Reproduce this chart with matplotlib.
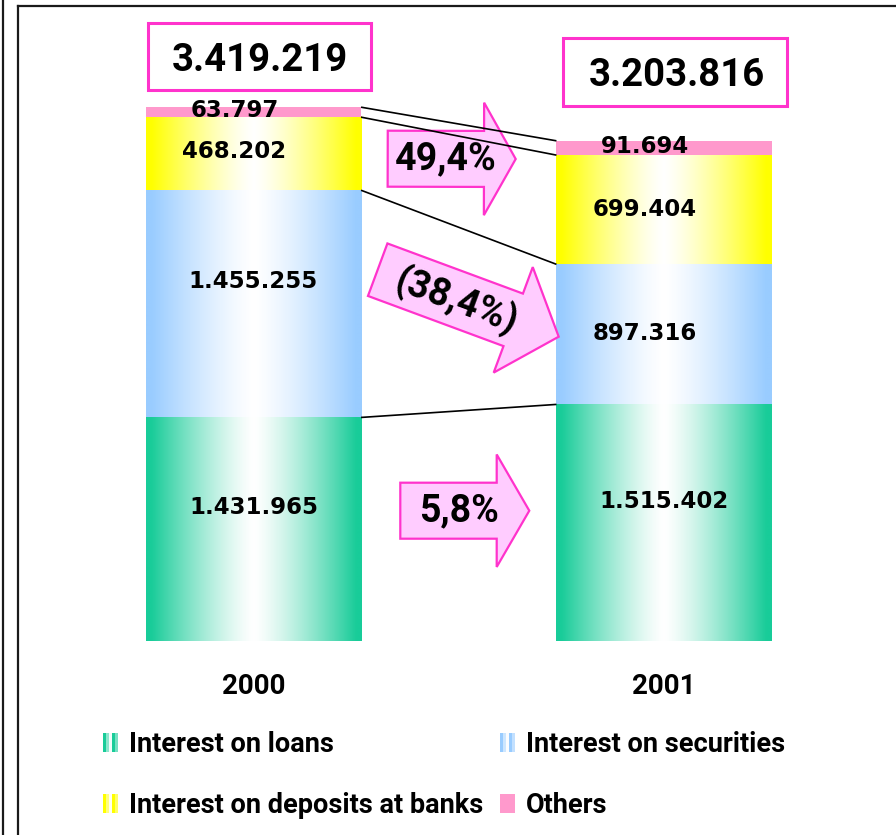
import numpy as np
import matplotlib
matplotlib.use("Agg")
import matplotlib.pyplot as plt
from matplotlib.patches import Rectangle, FancyArrow, Patch
from matplotlib.legend_handler import HandlerBase
from matplotlib.lines import Line2D
from matplotlib.transforms import Affine2D
from matplotlib.colors import to_rgb

# interest income by source, in thousands
years = ["2000", "2001"]
series = ["Interest on loans", "Interest on securities",
          "Interest on deposits at banks", "Others"]
loans = [1431965, 1515402]
securities = [1455255, 897316]
deposits = [468202, 699404]
others = [63797, 91694]
# year-on-year change, %
change_loans = 5.8
change_securities = -38.4
change_deposits = 49.4

colors = ["#19CC99", "#99CCFF", "#FFFF00", "#FF99CC"]
shaded = [True, True, True, False]

MAGENTA = "#FF33CC"
ARROW_FILL = "#FFCCFF"
FONT = "Roboto"
W, H = 896, 835


def fmt_int(v):
    return f"{v:,}".replace(",", ".")


def fmt_change(ch):
    s = f"{abs(ch):.1f}%".replace(".", ",")
    return f"({s})" if ch < 0 else s


def ramp(color, n=256):
    # saturated at the edges, white in the middle
    t = np.abs(np.linspace(-1, 1, n))
    f = np.clip(t / 0.95, 0, 1) ** 1.3
    c = np.array(to_rgb(color))
    return (1 - f[:, None] * (1 - c))[None, :, :]


class StripeHandler(HandlerBase):
    """Small striped swatch for the gradient series."""
    def create_artists(self, legend, orig_handle, xdescent, ydescent,
                       width, height, fontsize, trans):
        base = np.array(to_rgb(orig_handle.get_facecolor()))
        mixes = [1.0, 0.5, 0.05, 1.0, 0.6]
        w = width / len(mixes)
        return [Rectangle((-xdescent + i * w, -ydescent), w, height,
                          facecolor=1 - m * (1 - base), lw=0, transform=trans)
                for i, m in enumerate(mixes)]


fig = plt.figure(figsize=(W / 100, H / 100), dpi=100)
# pixel coordinates, origin top-left
px = Affine2D().scale(1 / W, -1 / H).translate(0, 1) + fig.transFigure

ax = fig.add_axes([18 / W, (H - 641) / H, 875 / W, 621 / H])
x = np.arange(len(years))
width = 0.524
stack = [loans, securities, deposits, others]

bottom = np.zeros(len(years))
for vals, col, grad in zip(stack, colors, shaded):
    bars = ax.bar(x, vals, width, bottom=bottom,
                  color="none" if grad else col, linewidth=0, zorder=2)
    if grad:
        for b in bars:
            ax.imshow(ramp(col), aspect="auto", interpolation="bilinear",
                      extent=(b.get_x(), b.get_x() + b.get_width(),
                              b.get_y(), b.get_y() + b.get_height()),
                      zorder=2)
    bottom += np.array(vals)

# value labels inside the segments
label_dy = [[-15.5, -15.5, 4, 5], [-15, 6, 6, 5]]   # px below segment centre
bottom = np.zeros(len(years))
for k, vals in enumerate(stack):
    for i, v in enumerate(vals):
        dx = 0 if v >= 1_000_000 else -19
        ax.annotate(fmt_int(v), (x[i], bottom[i] + v / 2),
                    xytext=(dx, -label_dy[i][k]), textcoords="offset pixels",
                    ha="center", va="baseline", fontsize=16.5,
                    fontweight="bold", family="DejaVu Sans", zorder=6)
    bottom += np.array(vals)

# connectors between the segment boundaries of the two bars
tops = np.cumsum(stack, axis=0)
for t in tops:
    ax.plot([x[0] + width / 2, x[1] - width / 2], [t[0], t[1]],
            color="black", lw=1.2, zorder=5, solid_capstyle="butt")

ax.set_xlim(-0.5737, 1.5579)
ax.set_ylim(0, 3977700)
ax.set_xticks(x, years)
ax.tick_params(axis="x", length=0, pad=23)
for lab in ax.get_xticklabels():
    lab.set_fontfamily(FONT)
    lab.set_fontweight("bold")
    lab.set_fontsize(20)
ax.set_yticks([])
for sp in ax.spines.values():
    sp.set_visible(False)
ax.patch.set_visible(False)

# totals in boxes above the bars
totals = [sum(s[i] for s in stack) for i in range(len(years))]
total_boxes = [(148, 23, 223, 67, 260, 71), (563, 38, 224, 68, 676.5, 86)]
for tot, (bx, by, bw, bh, tx, ty) in zip(totals, total_boxes):
    fig.add_artist(Rectangle((bx, by), bw, bh, transform=px, facecolor="white",
                             edgecolor=MAGENTA, lw=2.2))
    fig.text(tx, ty, fmt_int(tot), transform=px, ha="center", va="baseline",
             fontsize=27.5, fontweight="bold", family=FONT)

# block arrows with the year-on-year change
arrows = [
    (change_deposits, (387.7, 158.7), (515.7, 159.0), 31.7, (446, 159)),
    (change_securities, (377.7, 269.7), (558.7, 336.7), 48.5, (457, 302)),
    (change_loans, (400.3, 510.7), (529.3, 510.7), 32.6, (459, 511)),
]
for ch, (x0, y0), (x1, y1), hl, (tx, ty) in arrows:
    arr = FancyArrow(x0, y0, x1 - x0, y1 - y0, width=56, head_width=112.5,
                     head_length=hl, length_includes_head=True, transform=px,
                     facecolor=ARROW_FILL, edgecolor=MAGENTA, lw=1.6,
                     clip_on=False, zorder=4)
    ax.add_artist(arr)
    ang = -np.degrees(np.arctan2(y1 - y0, x1 - x0))
    ax.text(tx, ty, fmt_change(ch), transform=px, rotation=ang,
            rotation_mode="anchor", ha="center", va="center", fontsize=27,
            fontweight="bold", family=FONT, zorder=6, clip_on=False)

# legend
handles = [Patch(facecolor=c) for c in colors]
order = [0, 2, 1, 3]
hmap = {handles[i]: StripeHandler() for i in range(3)}
fig.legend([handles[i] for i in order], [series[i] for i in order],
           handler_map=hmap, ncol=2, loc="upper left",
           bbox_to_anchor=(103 / W, 1 - 731 / H), frameon=False,
           borderpad=0, borderaxespad=0, handlelength=0.55, handleheight=0.67,
           handletextpad=0.4, columnspacing=0.63, labelspacing=1.25,
           prop={"family": FONT, "weight": "bold", "size": 19.5})

# outer frame
for xs, ys in [([18, 896], [6, 6]), ([18, 18], [6, 835]), ([3, 3], [0, 835])]:
    fig.add_artist(Line2D(xs, ys, transform=px, color="#1a1a1a", lw=1.6))

fig.savefig("out.png", dpi=100)
